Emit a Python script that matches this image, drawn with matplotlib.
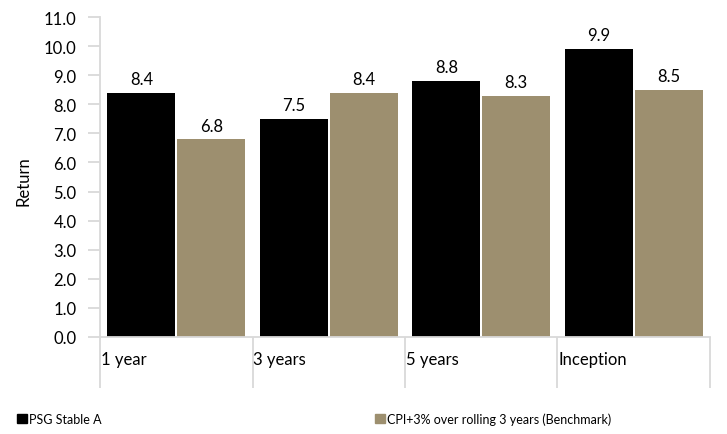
import numpy as np
import matplotlib.pyplot as plt
from matplotlib.patches import Patch
from matplotlib.transforms import blended_transform_factory

plt.rcParams['font.family'] = ['Lato', 'DejaVu Sans']

# data
periods = ['1 year', '3 years', '5 years', 'Inception']
fund = [8.4, 7.5, 8.8, 9.9]
benchmark = [6.8, 8.4, 8.3, 8.5]
fund_name = 'PSG Stable A'
bench_name = 'CPI+3% over rolling 3 years (Benchmark)'

black = '#000000'
tan = '#9D8F6F'
grey = '#D9D9D9'

fig = plt.figure(figsize=(7.27, 4.35), dpi=100)
ax = fig.add_axes([0.1376, 0.223, 0.8390, 0.7356])

x = np.arange(len(periods))
w = 0.446
off = 0.229
b1 = ax.bar(x - off, fund, w, color=black)
b2 = ax.bar(x + off, benchmark, w, color=tan)

for bars, vals in ((b1, fund), (b2, benchmark)):
    for r, v in zip(bars, vals):
        ax.annotate('%.1f' % v, (r.get_x() + r.get_width() / 2, v),
                    xytext=(0, 4), textcoords='offset points',
                    ha='center', va='bottom', fontsize=12)

ax.set_xlim(-0.5, len(periods) - 0.5)
ax.set_ylim(0, 11)
ax.set_yticks(np.arange(0, 12, 1))
ax.set_yticklabels(['%.1f' % t for t in np.arange(0, 12, 1)], fontsize=12)
ax.tick_params(axis='y', length=9, width=1.3, color=grey, pad=8)

bounds = np.arange(len(periods) + 1) - 0.5
ax.set_xticks(bounds)
ax.set_xticklabels([''] * len(bounds))
ax.tick_params(axis='x', length=37, width=1.3, color=grey)

trans = blended_transform_factory(ax.transData, ax.transAxes)
for b, lab in zip(bounds[:-1], periods):
    ax.text(b + 0.005, -0.07, lab, transform=trans, ha='left', va='center',
            fontsize=12)

for s in ['top', 'right']:
    ax.spines[s].set_visible(False)
for s in ['left', 'bottom']:
    ax.spines[s].set_color(grey)
    ax.spines[s].set_linewidth(1.3)

ax.set_ylabel('Return', fontsize=12)
ax.yaxis.set_label_coords(-0.113, 0.49)

fig.legend(handles=[Patch(color=black)], labels=[fund_name], loc='center left',
           bbox_to_anchor=(0.008, 0.035), frameon=False, fontsize=9,
           handlelength=0.8, handleheight=0.8, handletextpad=0.15)
fig.legend(handles=[Patch(color=tan)], labels=[bench_name], loc='center left',
           bbox_to_anchor=(0.5, 0.035), frameon=False, fontsize=9,
           handlelength=0.8, handleheight=0.8, handletextpad=0.15)

fig.savefig('out.png', dpi=100)
